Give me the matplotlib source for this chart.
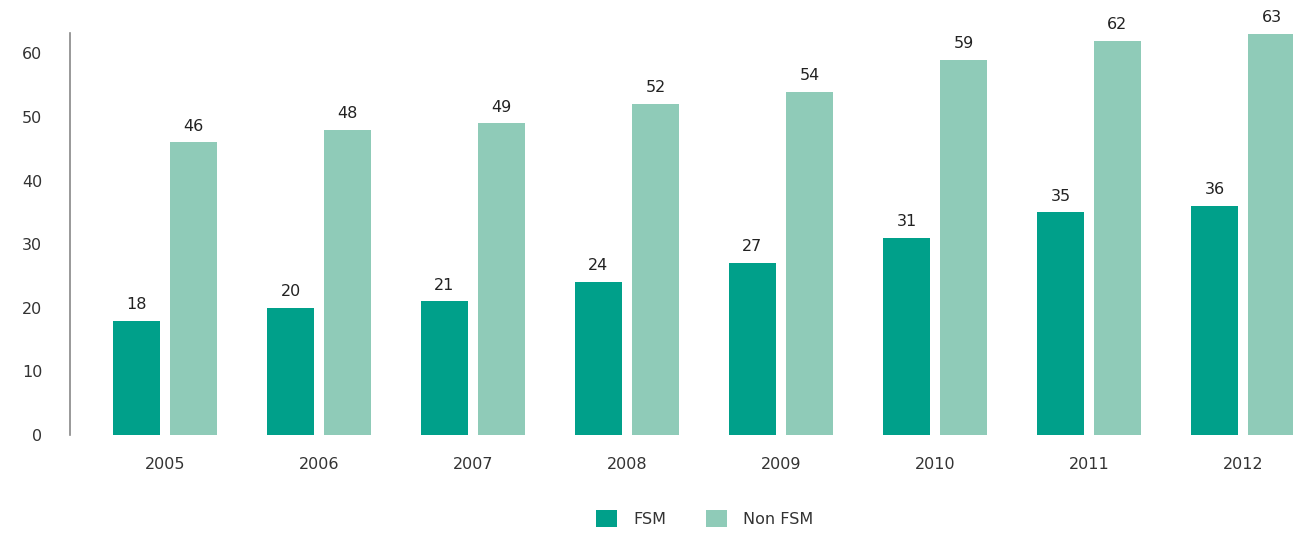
import matplotlib
matplotlib.use("Agg")
import matplotlib.pyplot as plt
import numpy as np

years = ["2005", "2006", "2007", "2008", "2009", "2010", "2011", "2012"]
fsm = [18, 20, 21, 24, 27, 31, 35, 36]
non_fsm = [46, 48, 49, 52, 54, 59, 62, 63]
yticks = [0, 10, 20, 30, 40, 50, 60]

c_fsm = "#00a08a"
c_non = "#8fcbb8"

plt.rcParams['font.family'] = ['DejaVu Sans']
fig = plt.figure(figsize=(12.93, 5.43), dpi=100)
ax = fig.add_axes([70/1293, 0.199, 1 - 70/1293, 0.74])

x = np.arange(len(years))
w = 0.30
off = 0.185
b1 = ax.bar(x - off, fsm, w, color=c_fsm, label="FSM")
b2 = ax.bar(x + off, non_fsm, w, color=c_non, label="Non FSM")

for bars, vals in ((b1, fsm), (b2, non_fsm)):
    for r, v in zip(bars, vals):
        ax.text(r.get_x() + r.get_width()/2, v + 1.4, str(v), ha="center", va="bottom",
                fontsize=11.5, color="#222222", clip_on=False)

ax.set_xlim(-0.617, 7.325)
ax.set_ylim(0, 63.2)
ax.set_xticks(x)
ax.set_xticklabels(years, fontsize=11.5, color="#333333")
ax.set_yticks(yticks)
ax.set_yticklabels([str(t) for t in yticks], fontsize=11.5, color="#333333")
ax.tick_params(axis="both", length=0)
ax.tick_params(axis="y", pad=20)
ax.tick_params(axis="x", pad=16)
for s in ("top", "right", "bottom"):
    ax.spines[s].set_visible(False)
ax.spines["left"].set_color("#888888")
ax.spines["left"].set_linewidth(1.2)

fig.legend(handles=[b1, b2], labels=["FSM", "Non FSM"], loc="center",
           bbox_to_anchor=(0.545, 0.045), ncol=2, frameon=False, fontsize=11.5,
           handlelength=1.3, handleheight=1.3, columnspacing=2.5, handletextpad=1.0,
           labelcolor="#333333")

fig.savefig("out.png", dpi=100, facecolor="white")
